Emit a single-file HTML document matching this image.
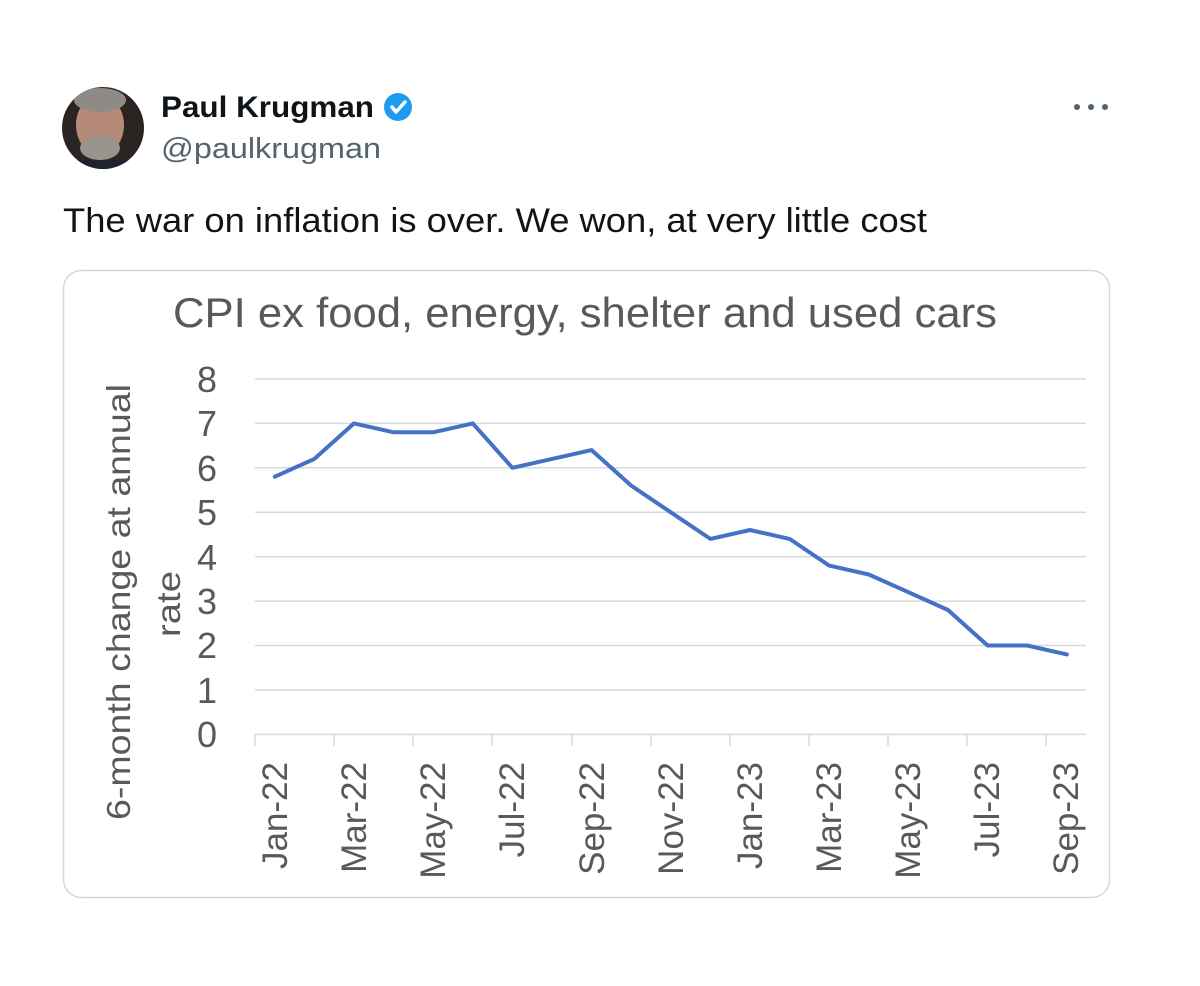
<!DOCTYPE html>
<html><head><meta charset="utf-8"><style>
html,body{margin:0;padding:0;background:#fff;}
svg{display:block}
</style></head><body>
<svg width="1200" height="986" viewBox="0 0 1200 986" xmlns="http://www.w3.org/2000/svg" font-family="Liberation Sans, sans-serif">
<rect width="1200" height="986" fill="#fff"/>
<defs><clipPath id="av"><circle cx="103" cy="128" r="41"/></clipPath></defs>
<circle cx="103" cy="128" r="41" fill="#2a2522"/>
<g clip-path="url(#av)">
<ellipse cx="100" cy="125" rx="24" ry="30" fill="#b58a78"/>
<ellipse cx="100" cy="100" rx="26" ry="12" fill="#8f8a86"/>
<ellipse cx="100" cy="148" rx="20" ry="12" fill="#9a948f"/>
<rect x="60" y="160" width="90" height="20" fill="#1f2330"/>
</g>
<text x="161" y="117" font-size="30" font-weight="bold" fill="#0f1419" textLength="213" lengthAdjust="spacingAndGlyphs">Paul Krugman</text>
<g transform="translate(398,107)">
<circle r="14" fill="#1d9bf0"/>
<path d="M-6 0 L-2 5 L7 -5" stroke="#fff" stroke-width="3.5" fill="none" stroke-linecap="round" stroke-linejoin="round"/>
</g>
<text x="161" y="158" font-size="29" fill="#536471" textLength="220" lengthAdjust="spacingAndGlyphs">@paulkrugman</text>
<g fill="#536471"><circle cx="1077" cy="107" r="3"/><circle cx="1091" cy="107" r="3"/><circle cx="1105" cy="107" r="3"/></g>
<text x="63" y="232" font-size="34" fill="#0f1419" textLength="864" lengthAdjust="spacingAndGlyphs">The war on inflation is over. We won, at very little cost</text>
<rect x="63.5" y="270.5" width="1046" height="627" rx="18" fill="#fff" stroke="#cfd9de" stroke-width="1.5"/>
<text x="173" y="327" font-size="42" fill="#595959" textLength="824" lengthAdjust="spacingAndGlyphs">CPI ex food, energy, shelter and used cars</text>
<g stroke="#d9d9d9" stroke-width="1.5">
<line x1="255" x2="1086" y1="379" y2="379"/>
<line x1="255" x2="1086" y1="423.4" y2="423.4"/>
<line x1="255" x2="1086" y1="467.8" y2="467.8"/>
<line x1="255" x2="1086" y1="512.3" y2="512.3"/>
<line x1="255" x2="1086" y1="556.7" y2="556.7"/>
<line x1="255" x2="1086" y1="601.1" y2="601.1"/>
<line x1="255" x2="1086" y1="645.5" y2="645.5"/>
<line x1="255" x2="1086" y1="690" y2="690"/>
<line x1="255" x2="1086" y1="734.4" y2="734.4"/>
<line x1="255" x2="255" y1="734" y2="746"/>
<line x1="334" x2="334" y1="734" y2="746"/>
<line x1="413" x2="413" y1="734" y2="746"/>
<line x1="492" x2="492" y1="734" y2="746"/>
<line x1="572" x2="572" y1="734" y2="746"/>
<line x1="651" x2="651" y1="734" y2="746"/>
<line x1="730" x2="730" y1="734" y2="746"/>
<line x1="809" x2="809" y1="734" y2="746"/>
<line x1="888" x2="888" y1="734" y2="746"/>
<line x1="967" x2="967" y1="734" y2="746"/>
<line x1="1046" x2="1046" y1="734" y2="746"/>
</g>
<g font-size="36" fill="#595959" text-anchor="end">
<text x="217" y="392">8</text><text x="217" y="436">7</text><text x="217" y="481">6</text>
<text x="217" y="525">5</text><text x="217" y="570">4</text><text x="217" y="614">3</text>
<text x="217" y="658">2</text><text x="217" y="703">1</text><text x="217" y="747">0</text>
</g>
<g font-size="33" fill="#595959">
<text transform="translate(130,820) rotate(-90)" textLength="436" lengthAdjust="spacingAndGlyphs">6-month change at annual</text>
<text transform="translate(180,637) rotate(-90)" textLength="66" lengthAdjust="spacingAndGlyphs">rate</text>
</g>
<g font-size="35" fill="#595959" text-anchor="end">
<text transform="translate(287,762) rotate(-90)">Jan-22</text>
<text transform="translate(366,762) rotate(-90)">Mar-22</text>
<text transform="translate(445,762) rotate(-90)">May-22</text>
<text transform="translate(524,762) rotate(-90)">Jul-22</text>
<text transform="translate(604,762) rotate(-90)">Sep-22</text>
<text transform="translate(683,762) rotate(-90)">Nov-22</text>
<text transform="translate(762,762) rotate(-90)">Jan-23</text>
<text transform="translate(841,762) rotate(-90)">Mar-23</text>
<text transform="translate(920,762) rotate(-90)">May-23</text>
<text transform="translate(999,762) rotate(-90)">Jul-23</text>
<text transform="translate(1078,762) rotate(-90)">Sep-23</text>
</g>
<polyline fill="none" stroke="#4472c4" stroke-width="4" stroke-linejoin="round" stroke-linecap="round"
points="274.8,476.7 314.4,458.9 354,423.4 393.6,432.3 433.2,432.3 472.8,423.4 512.4,467.8 552,458.9 591.6,450.1 631.2,485.6 670.8,512.3 710.4,538.9 750,530 789.6,538.9 829.2,565.6 868.8,574.5 908.4,592.2 948,610 987.6,645.5 1027.2,645.5 1066.8,654.4"/>
</svg>
</body></html>
